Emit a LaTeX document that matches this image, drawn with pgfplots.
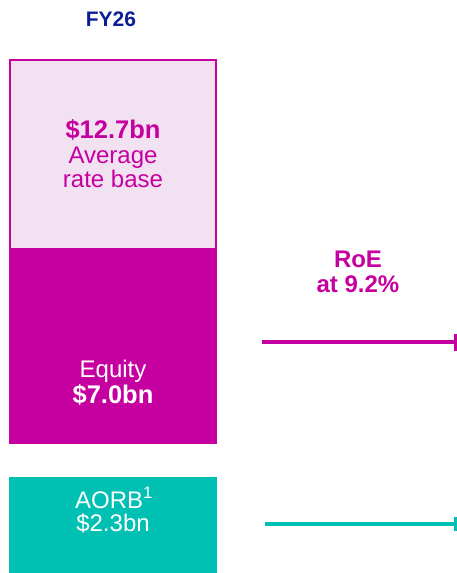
\documentclass[border=0pt]{standalone}
\usepackage{pgfplots}
\pgfplotsset{compat=1.18}
\usepackage{fontspec}
\setmainfont{Liberation Sans}
\usetikzlibrary{arrows.meta}
\definecolor{mag}{RGB}{198,0,160}
\definecolor{lightmag}{RGB}{242,225,241}
\definecolor{tealc}{RGB}{0,192,180}
\definecolor{navy}{RGB}{10,30,150}
\newcommand{\fs}[1]{\fontsize{#1}{#1}\selectfont}
\begin{document}
\begin{tikzpicture}
\begin{axis}[width=457pt,height=573pt,scale only axis,
  xmin=0,xmax=457,ymin=0,ymax=573,y dir=reverse,hide axis,clip=true]
% Average rate base box
\addplot[fill=lightmag,draw=mag,line width=2pt] coordinates {(10,60) (216,60) (216,249) (10,249)} -- cycle;
% Equity portion
\addplot[fill=mag,draw=none] coordinates {(9,249) (217,249) (217,444) (9,444)} -- cycle;
% AORB
\addplot[fill=tealc,draw=none] coordinates {(9,477) (217,477) (217,574) (9,574)} -- cycle;
% arrows
\addplot[mag,line width=3.5pt,-{Bar[width=17pt,line width=3.5pt]}] coordinates {(262,342) (457,342)};
\addplot[tealc,line width=3.5pt,-{Bar[width=14pt,line width=3.5pt]}] coordinates {(265,524) (457,524)};
% texts
\node[anchor=base,text=navy,font=\fs{21}\bfseries] at (axis cs:111,26) {FY26};
\node[anchor=base,text=mag,font=\fs{25.5}\bfseries] at (axis cs:113,138) {\$12.7bn};
\node[anchor=base,text=mag,font=\fs{24}] at (axis cs:113,163) {Average};
\node[anchor=base,text=mag,font=\fs{24}] at (axis cs:113,187) {rate base};
\node[anchor=base,text=white,font=\fs{24}] at (axis cs:113,377) {Equity};
\node[anchor=base,text=white,font=\fs{25.5}\bfseries] at (axis cs:113,403) {\$7.0bn};
\node[anchor=base,text=white,font=\fs{24}] at (axis cs:114,508) {AORB\textsuperscript{1}};
\node[anchor=base,text=white,font=\fs{24}] at (axis cs:113,531) {\$2.3bn};
\node[anchor=base,text=mag,font=\fs{24}\bfseries] at (axis cs:358,267) {RoE};
\node[anchor=base,text=mag,font=\fs{24}\bfseries] at (axis cs:358,292) {at 9.2\%};
\end{axis}
\pgfresetboundingbox
\path (current axis.south west) rectangle (current axis.north east);
\end{tikzpicture}
\end{document}
